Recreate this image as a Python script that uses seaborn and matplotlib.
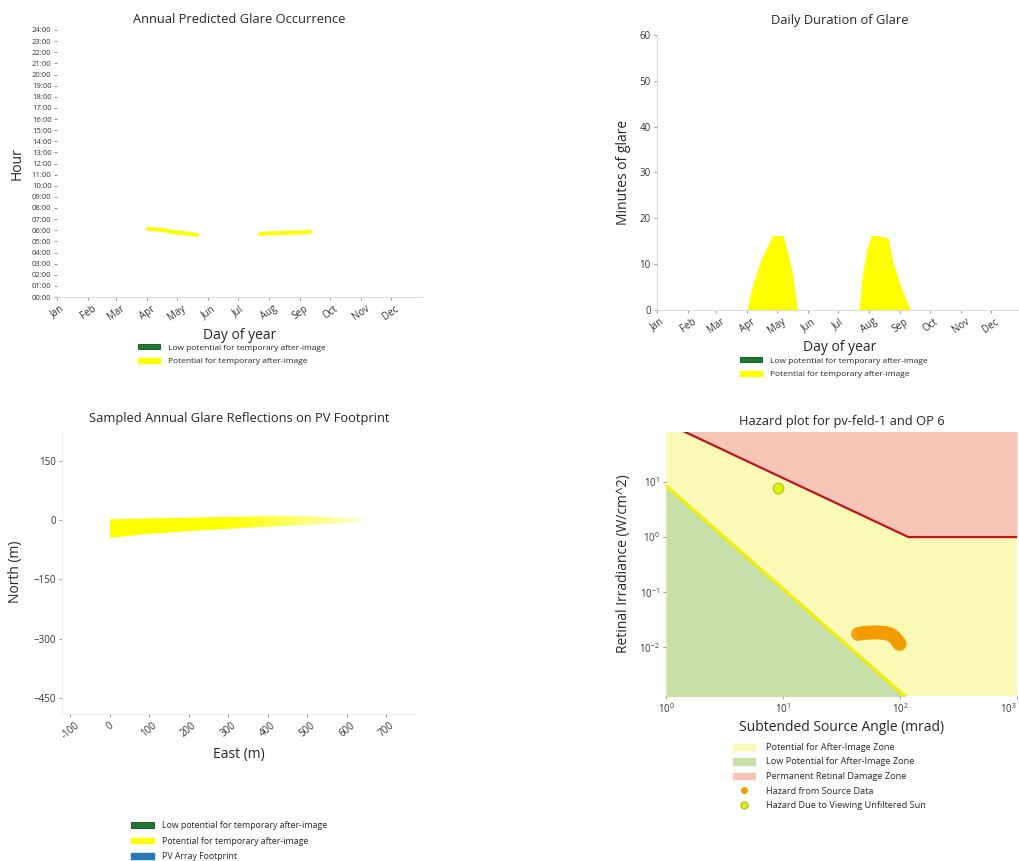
import matplotlib
matplotlib.use("Agg")
import matplotlib.pyplot as plt
import seaborn as sns
import numpy as np
from matplotlib.patches import Patch, Polygon
from matplotlib.lines import Line2D
from matplotlib.ticker import NullLocator, FixedLocator
from matplotlib.colors import to_rgb

# ---------------- data ----------------
month_starts = [0, 31, 59, 90, 120, 151, 181, 212, 243, 273, 304, 334]
month_labels = ["Jan", "Feb", "Mar", "Apr", "May", "Jun",
                "Jul", "Aug", "Sep", "Oct", "Nov", "Dec"]
hour_ticks = list(range(25))
hour_labels = ["%02d:00" % h for h in hour_ticks]

# glare season 1 (spring)
spring_days = [91, 96, 100, 105, 113, 116, 121, 126, 131, 136, 140]
spring_minutes = [0, 5, 7.5, 11, 14.5, 16, 16, 16, 12, 7, 0]
spring_start_hour = [6.12, 6.05, 6.0, 5.93, 5.8, 5.7, 5.66, 5.62, 5.59, 5.57, 5.56]
# glare season 2 (late summer)
summer_days = [203, 206, 211, 215, 222, 231, 236, 243, 249, 253]
summer_minutes = [0, 7, 13.5, 16, 16, 15.5, 10, 5.5, 2, 0]
summer_start_hour = [5.65, 5.62, 5.6, 5.6, 5.62, 5.66, 5.7, 5.76, 5.82, 5.86]

minute_ticks = [0, 10, 20, 30, 40, 50, 60]

# reflections on PV footprint
east_m = [0, 50, 100, 200, 300, 400, 480, 540, 600, 650]
north_top_m = [2, 3, 4, 6, 8, 10, 10, 8, 5, 1]
north_bottom_m = [-45, -40, -35, -28, -22, -17, -13, -10, -6, -1]
east_ticks = [-100, 0, 100, 200, 300, 400, 500, 600, 700]
north_ticks = [150, 0, -150, -300, -450]

# hazard plot
burn_angle = [1, 118, 1000]
burn_irradiance = [118, 1, 1]
afterimage_angle = [1, 120]
afterimage_irradiance = [8.5, 0.0011]
source_angle = [44, 48, 52, 56, 60, 65, 70, 75, 80, 85, 90, 94, 97, 99]
source_irradiance = [0.0175, 0.018, 0.0183, 0.0185, 0.0186, 0.0185, 0.0183,
                     0.018, 0.0175, 0.0165, 0.015, 0.0135, 0.0122, 0.0115]
sun_angle = [9.1]
sun_irradiance = [7.8]

# ---------------- style ----------------
sns.set_theme(style="ticks")
plt.rcParams["font.family"] = ["Open Sans", "DejaVu Sans"]
plt.rcParams["axes.titlesize"] = 9.3
plt.rcParams["axes.labelsize"] = 10

YELLOW = "#ffff00"
DKGREEN = "#1e7a30"
BLUE = "#2a78b8"
SPINE = "#dcdcdc"
TICKC = "#888888"

W, H = 1019, 861
fig = plt.figure(figsize=(W / 100, H / 100), dpi=100)
fig.patch.set_facecolor("white")


def px_axes(l, t, r, b):
    return fig.add_axes([l / W, 1 - b / H, (r - l) / W, (b - t) / H])


def style_axes(ax, left_spine=True, bottom_spine=True):
    for s in ["top", "right"]:
        ax.spines[s].set_visible(False)
    ax.spines["left"].set_visible(left_spine)
    ax.spines["bottom"].set_visible(bottom_spine)
    ax.spines["left"].set_color(SPINE)
    ax.spines["bottom"].set_color(SPINE)
    ax.spines["left"].set_linewidth(0.8)
    ax.spines["bottom"].set_linewidth(0.8)
    ax.tick_params(color=TICKC, length=2.5, width=0.6, labelcolor="#333333")


def glare_legend(ax, x, y, fs, extra=False):
    handles = [Patch(facecolor=DKGREEN, edgecolor="#0f4a1a", linewidth=0.6),
               Patch(facecolor=YELLOW, edgecolor=YELLOW)]
    labels = ["Low potential for temporary after-image",
              "Potential for temporary after-image"]
    if extra:
        handles.append(Patch(facecolor=BLUE, edgecolor=BLUE))
        labels.append("PV Array Footprint")
    ax.legend(handles, labels, loc="upper left",
              bbox_to_anchor=(x / W, 1 - y / H), bbox_transform=fig.transFigure,
              frameon=False, fontsize=fs, handlelength=2.6, handleheight=0.6,
              labelspacing=0.75, borderaxespad=0, borderpad=0, handletextpad=1.0)


# ---------------- panel 1: annual occurrence ----------------
ax1 = px_axes(57, 30, 422, 297)
for days, mins, start in [(spring_days, spring_minutes, spring_start_hour),
                          (summer_days, summer_minutes, summer_start_hour)]:
    top = [s + m / 60 for s, m in zip(start, mins)]
    mid = [s + m / 120 for s, m in zip(start, mins)]
    ax1.fill_between(days, start, top, color=YELLOW, linewidth=0)
    sns.lineplot(x=days, y=mid, ax=ax1, color=YELLOW, linewidth=2.8,
                 solid_capstyle="round")
ax1.set_xlim(0, 365)
ax1.set_ylim(0, 24)
ax1.set_yticks(hour_ticks)
ax1.set_yticklabels(hour_labels)
ax1.set_xticks(month_starts)
ax1.set_xticklabels(month_labels, rotation=35)
style_axes(ax1, left_spine=False, bottom_spine=True)
ax1.tick_params(axis="y", labelsize=5.5, pad=1.5)
ax1.tick_params(axis="x", labelsize=7, pad=2)
ax1.set_title("Annual Predicted Glare Occurrence", pad=5)
ax1.set_xlabel("Day of year")
ax1.set_ylabel("Hour")
ax1.xaxis.set_label_coords(0.5, -0.115)
ax1.yaxis.set_label_coords(-0.088, 0.5)
glare_legend(ax1, 138, 344, 6.0)

# ---------------- panel 2: daily duration ----------------
ax2 = px_axes(657, 35, 1022, 310)
for days, mins in [(spring_days, spring_minutes), (summer_days, summer_minutes)]:
    ax2.fill_between(days, 0, mins, color=YELLOW, linewidth=0)
    sns.lineplot(x=days, y=mins, ax=ax2, color=YELLOW, linewidth=0.8)
ax2.set_xlim(0, 365)
ax2.set_ylim(0, 60)
ax2.set_yticks(minute_ticks)
ax2.set_xticks(month_starts)
ax2.set_xticklabels(month_labels, rotation=35)
style_axes(ax2)
ax2.tick_params(axis="y", labelsize=7, pad=2)
ax2.tick_params(axis="x", labelsize=7, pad=2)
ax2.set_title("Daily Duration of Glare", pad=8)
ax2.set_xlabel("Day of year")
ax2.set_ylabel("Minutes of glare")
ax2.xaxis.set_label_coords(0.5, -0.11)
ax2.yaxis.set_label_coords(-0.07, 0.5)
glare_legend(ax2, 740, 357, 6.0)

# ---------------- panel 3: reflections on footprint ----------------
ax3 = px_axes(62, 430, 416, 714)
ax3.set_xlim(-121, 775)
ax3.set_ylim(-491, 228)
poly_pts = list(zip(east_m, north_top_m)) + list(zip(east_m[::-1], north_bottom_m[::-1]))
wedge = Polygon(poly_pts, closed=True, facecolor="none", edgecolor="none")
ax3.add_patch(wedge)
# horizontal fade of the yellow footprint reflections (style only)
ramp = np.ones((2, 256, 4))
ramp[..., :3] = to_rgb(YELLOW)
fade = np.clip(1.0 - (np.linspace(0, 1, 256) - 0.45) / 0.55 * 0.8, 0.2, 1.0)
ramp[..., 3] = fade
img = ax3.imshow(ramp, extent=(min(east_m), max(east_m), min(north_bottom_m), max(north_top_m)),
                 aspect="auto", origin="lower", interpolation="bilinear", zorder=2)
img.set_clip_path(wedge)
ax3.set_xlim(-121, 775)
ax3.set_ylim(-491, 228)
ax3.set_xticks(east_ticks)
ax3.set_xticklabels([str(v) for v in east_ticks], rotation=40)
ax3.set_yticks(north_ticks)
style_axes(ax3)
ax3.spines["left"].set_color("#eeeeee")
ax3.spines["bottom"].set_color("#eeeeee")
ax3.tick_params(axis="both", labelsize=7, pad=2)
ax3.set_title("Sampled Annual Glare Reflections on PV Footprint", pad=6)
ax3.set_xlabel("East (m)")
ax3.set_ylabel("North (m)")
ax3.xaxis.set_label_coords(0.5, -0.115)
ax3.yaxis.set_label_coords(-0.11, 0.5)
glare_legend(ax3, 131, 821, 6.3, extra=True)

# ---------------- panel 4: hazard plot ----------------
Z_YEL = "#fbf9b6"
Z_GRN = "#c7dfa9"
Z_RED = "#f6c5b6"
ax4 = px_axes(666, 432, 1017, 696)
ax4.set_xscale("log")
ax4.set_yscale("log")
ax4.set_facecolor(Z_YEL)
ax4.fill_between(afterimage_angle, 1e-6, afterimage_irradiance, color=Z_GRN, linewidth=0)
ax4.fill_between(burn_angle, burn_irradiance, 1e5, color=Z_RED, linewidth=0)
sns.lineplot(x=afterimage_angle, y=afterimage_irradiance, ax=ax4,
             color="#eeee10", linewidth=2.4)
sns.lineplot(x=burn_angle, y=burn_irradiance, ax=ax4, color="#c0141c", linewidth=1.6)
sns.scatterplot(x=source_angle, y=source_irradiance, ax=ax4, color="#f39c00",
                s=105, edgecolor="none", alpha=0.9, zorder=4)
sns.scatterplot(x=sun_angle, y=sun_irradiance, ax=ax4, color="#e6ee00",
                s=60, edgecolor="#a8c23a", linewidth=0.8, zorder=5)
ax4.set_xlim(1, 1000)
ax4.set_ylim(0.0013, 81)
ax4.xaxis.set_major_locator(FixedLocator([1, 10, 100, 1000]))
ax4.yaxis.set_major_locator(FixedLocator([0.01, 0.1, 1, 10]))
ax4.xaxis.set_minor_locator(NullLocator())
ax4.yaxis.set_minor_locator(NullLocator())
style_axes(ax4, left_spine=False, bottom_spine=False)
ax4.tick_params(axis="both", labelsize=7, pad=2)
fig.canvas.draw()
xlabs = ax4.get_xticklabels()
xlabs[-1].set_horizontalalignment("right")
ax4.set_title("Hazard plot for pv-feld-1 and OP 6", pad=5)
ax4.set_xlabel("Subtended Source Angle (mrad)")
ax4.set_ylabel("Retinal Irradiance (W/cm^2)")
ax4.xaxis.set_label_coords(0.5, -0.09)
ax4.yaxis.set_label_coords(-0.1, 0.5)
hz_handles = [Patch(facecolor=Z_YEL, edgecolor=Z_YEL),
              Patch(facecolor=Z_GRN, edgecolor=Z_GRN),
              Patch(facecolor=Z_RED, edgecolor=Z_RED),
              Line2D([], [], linestyle="none", marker="o", markersize=4,
                     markerfacecolor="#f39c00", markeredgecolor="#f39c00"),
              Line2D([], [], linestyle="none", marker="o", markersize=5,
                     markerfacecolor="#e6ee00", markeredgecolor="#a8c23a")]
hz_labels = ["Potential for After-Image Zone",
             "Low Potential for After-Image Zone",
             "Permanent Retinal Damage Zone",
             "Hazard from Source Data",
             "Hazard Due to Viewing Unfiltered Sun"]
ax4.legend(hz_handles, hz_labels, loc="upper left",
           bbox_to_anchor=(733 / W, 1 - 743 / H), bbox_transform=fig.transFigure,
           frameon=False, fontsize=6.6, handlelength=2.4, handleheight=0.7,
           labelspacing=0.6, borderaxespad=0, borderpad=0, handletextpad=1.2)

fig.savefig("out.png", dpi=100, facecolor="white")
